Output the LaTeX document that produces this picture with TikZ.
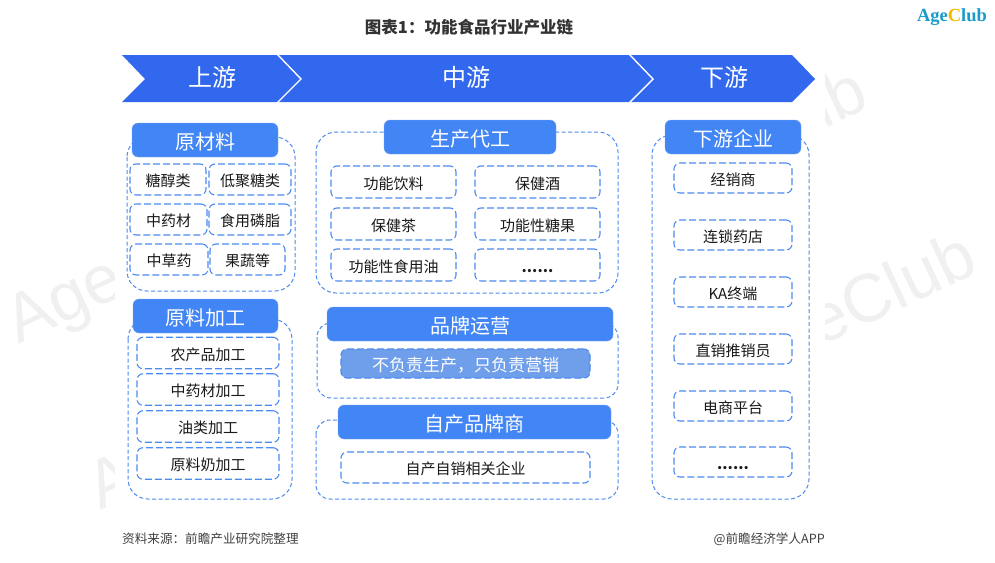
\documentclass[tikz,border=0pt]{standalone}
\usepackage{fontspec}
\setmainfont{Noto Sans CJK SC}
\newfontfamily\logofont{Liberation Serif}
\newfontfamily\markfont{Liberation Sans}
\definecolor{bandblue}{HTML}{3168EE}
\definecolor{headblue}{HTML}{4285F4}
\definecolor{dashblue}{HTML}{4C8BF0}
\definecolor{softblue}{HTML}{6F9FEA}
\definecolor{markgray}{HTML}{F0F0F0}
\tikzset{
  outerbox/.style = {draw=dashblue, line width=1pt, dash pattern=on 4pt off 2.5pt, rounded corners=20pt},
  itembox/.style = {draw=dashblue, line width=1.1pt, dash pattern=on 7pt off 3pt, rounded corners=6pt,
    inner sep=0pt, text height=14pt, text depth=0pt, font=\fontsize{15}{17}\selectfont, text=black!90},
  headbox/.style = {fill=headblue, draw=headblue!70!white, rounded corners=6pt, inner sep=0pt,
    text height=18pt, text depth=0pt, text=white, font=\fontsize{20}{23}\selectfont},
  bandtext/.style = {text=white, font=\fontsize{24}{28}\selectfont},
  watermark/.style = {text=markgray, inner sep=0pt, text height=38pt, text depth=0pt,
    font=\markfont\fontsize{68}{70}\selectfont, rotate=25, anchor=base west}
}
\begin{document}
\begin{tikzpicture}[x=1pt, y=-1pt]
  \useasboundingbox (0,0) rectangle (995,562);
  % faint marks, only the margins show them
  \node[watermark] (markleft) at (18,345) {Age};
  \node[watermark] (markfoot) at (100,511) {A};
  \node[watermark] (markright) at (820,347) {eClub};
  \node[watermark] (marktop) at (803,139) {ub};
  \fill[white] (115,0) rectangle (825,562);
  % title and logo
  \node[font=\bfseries\fontsize{16.5}{19}\selectfont, text=black!80] (title) at (469,27) {图表1：功能食品行业产业链};
  \definecolor{logoblue}{HTML}{1A9BC8}
  \definecolor{logogold}{HTML}{F5B800}
  \node[font=\logofont\bfseries\fontsize{18.5}{21}\selectfont, text=logoblue, inner sep=0pt] (logo) at (952,17)
    {Age\textcolor{logogold}{C}lub};
  % top band
  \fill[bandblue] (122,55) -- (792,55) -- (815,79) -- (792,102) -- (122,102) -- (145,79) -- cycle;
  \foreach \xpos in {277,629}
    \draw[white, line width=1.4pt] (\xpos,54) -- ({\xpos+24},79) -- (\xpos,103);
  \node[bandtext] (upper) at (212,77.5) {上游};
  \node[bandtext] (middle) at (466,77.5) {中游};
  \node[bandtext] (lower) at (724,77.5) {下游};
  % dashed frames
  \draw[outerbox] (127,137) rectangle (295,291);
  \draw[outerbox] (128,319) rectangle (292,499);
  \draw[outerbox] (316,132) rectangle (618,293);
  \draw[outerbox, rounded corners=14pt] (317,323) rectangle (618,398);
  \draw[outerbox, rounded corners=14pt] (316,420) rectangle (618,499);
  \draw[outerbox] (652,135) rectangle (809,499);
  % headers
  \node[headbox, minimum width=146pt, minimum height=34pt] (rawhead) at (205,140) {原材料};
  \node[headbox, minimum width=145pt, minimum height=34pt] (prochead) at (205.5,316) {原料加工};
  \node[headbox, minimum width=172pt, minimum height=34pt] (makehead) at (470,137) {生产代工};
  \node[headbox, minimum width=286pt, minimum height=34pt] (brandhead) at (470,324) {品牌运营};
  \node[headbox, minimum width=273pt, minimum height=34pt] (ownhead) at (474.5,422) {自产品牌商};
  \node[headbox, minimum width=136pt, minimum height=34pt] (downhead) at (733,137) {下游企业};
  % raw materials
  \node[itembox, minimum width=76pt, minimum height=31pt] (rawa) at (168,179.5) {糖醇类};
  \node[itembox, minimum width=82pt, minimum height=31pt] (rawb) at (250,179.5) {低聚糖类};
  \node[itembox, minimum width=77pt, minimum height=31pt] (rawc) at (168.5,219.5) {中药材};
  \node[itembox, minimum width=82pt, minimum height=31pt] (rawd) at (250,219.5) {食用磷脂};
  \node[itembox, minimum width=78pt, minimum height=31pt] (rawe) at (169,259.5) {中草药};
  \node[itembox, minimum width=75pt, minimum height=31pt] (rawf) at (247.5,259.5) {果蔬等};
  % processing
  \foreach \ypos/\label [count=\i] in {353/农产品加工, 389.5/中药材加工, 426.5/油类加工, 463.5/原料奶加工}
    \node[itembox, minimum width=142pt, minimum height=31.5pt] (proc\i) at (208,\ypos) {\label};
  % contract makers
  \foreach \ypos/\label [count=\i] in {182/功能饮料, 224/保健茶, 265/功能性食用油}
    \node[itembox, minimum width=125pt, minimum height=32pt] (makel\i) at (393.5,\ypos) {\label};
  \foreach \ypos/\label [count=\i] in {182/保健酒, 224/功能性糖果, 265/\textbf{......}}
    \node[itembox, minimum width=125pt, minimum height=32pt] (maker\i) at (537.5,\ypos) {\label};
  % brands
  \node[itembox, fill=softblue, text=white, minimum width=249pt, minimum height=29pt,
    text height=15pt, font=\fontsize{17}{20}\selectfont] (brandnote) at (465.5,363.5) {不负责生产，只负责营销};
  \node[itembox, minimum width=249pt, minimum height=31pt] (ownnote) at (465.5,467.5) {自产自销相关企业};
  % downstream
  \foreach \ypos/\label [count=\i] in {178/经销商, 235/连锁药店, 292/KA终端, 349/直销推销员, 406/电商平台, 462/\textbf{......}}
    \node[itembox, minimum width=118pt, minimum height=30pt] (down\i) at (733,\ypos) {\label};
  % footer
  \node[anchor=west, inner sep=0pt, font=\fontsize{12.6}{15}\selectfont, text=black!75] (source) at (122,539) {资料来源：前瞻产业研究院整理};
  \node[anchor=east, inner sep=0pt, font=\fontsize{12.6}{15}\selectfont, text=black!75] (credit) at (825,539) {@前瞻经济学人APP};
\end{tikzpicture}
\end{document}
